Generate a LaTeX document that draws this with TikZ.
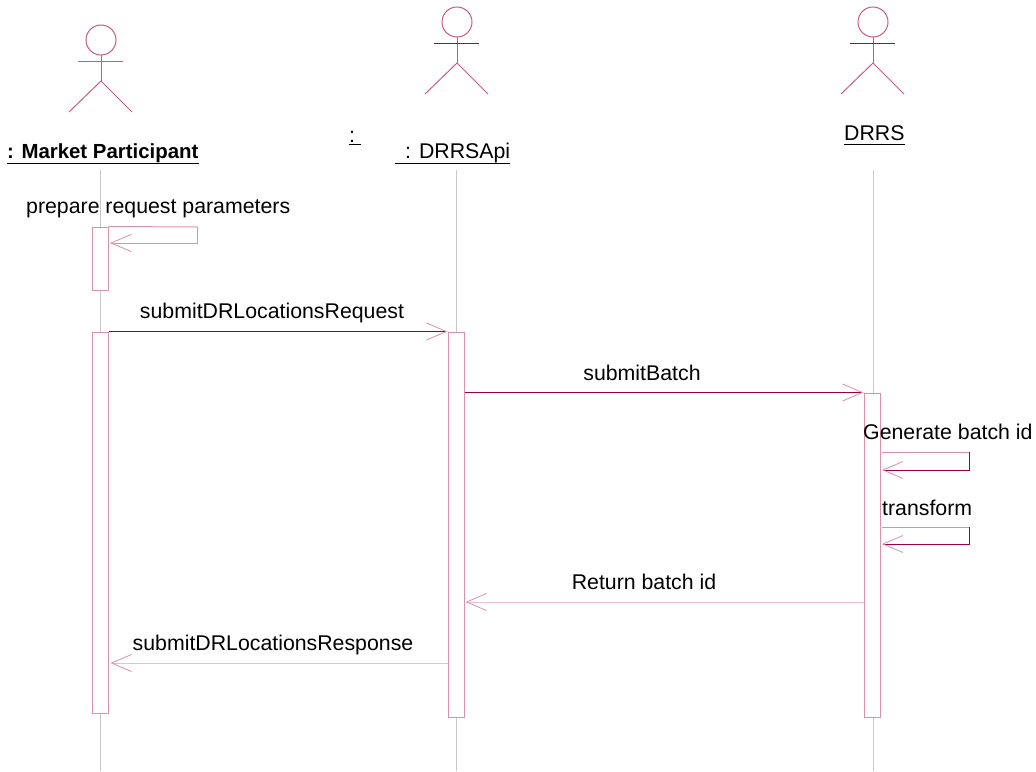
\documentclass[tikz,border=0pt]{standalone}
\usepackage{fontspec}
\setmainfont{Liberation Sans}
\usetikzlibrary{arrows.meta}
\definecolor{crim}{HTML}{A0003A}
\definecolor{darkcrim}{HTML}{7E0A30}
\definecolor{boxpink}{HTML}{D890AC}
\definecolor{lightpink}{HTML}{F0BCD0}
\definecolor{lifegray}{HTML}{C8C8C8}
\definecolor{actorc}{HTML}{C65C86}
\definecolor{armc}{HTML}{9A1048}
\begin{document}
\begin{tikzpicture}[x=1pt,y=-1pt,
  lbl/.style={font=\fontsize{21.3}{25}\selectfont, inner sep=0pt, text=black},
  actbox/.style={draw=boxpink, fill=white, line width=1pt, minimum width=16pt, inner sep=0pt},
  lifeline/.style={draw=lifegray, line width=0.8pt},
  barb/.style={-{Straight Barb[length=20pt,width=17pt,color=boxpink,line width=0.8pt]}},
  msg/.style={draw=crim, line width=1pt, barb},
  ret/.style={draw=lightpink, line width=1pt, barb},
  uline/.style={draw=black, line width=1pt},
  armcolour/.store in=\armcol, armcolour=armc,
  stickman/.pic={
    \draw[actorc, line width=1pt] (0,0) circle[radius=15];
    \draw[actorc, line width=1pt] (0,15) -- (0,41);
    \draw[\armcol, line width=1pt] (-23,21) -- (22,21);
    \draw[actorc, line width=1pt] (-32,72) -- (0,41) -- (31,72);
  }]
\useasboundingbox (0,0) rectangle (1036,771);

% actors
\pic[armcolour=actorc] at (101,40) {stickman};
\pic[armcolour=armc] at (457,22) {stickman};
\pic[armcolour=armc] at (873,22) {stickman};

% actor labels
\node[lbl, font=\bfseries\fontsize{20.4}{25}\selectfont, anchor=base west] (mpL) at (7,158) {: Market Participant};
\draw[uline] ([yshift=-5pt]mpL.base west) -- ([yshift=-5pt]mpL.base east);
\node[lbl, anchor=base west] (colL) at (349,142) {:};
\draw[uline] ([yshift=-2pt]colL.base west) -- ([xshift=6pt,yshift=-2pt]colL.base east);
\node[lbl, anchor=base west] (apiL) at (405,158) {: DRRSApi};
\draw[uline] ([xshift=-10pt,yshift=-5pt]apiL.base west) -- ([yshift=-5pt]apiL.base east);
\node[lbl, anchor=base west] (drrsL) at (844,140) {DRRS};
\draw[uline] ([yshift=-4pt]drrsL.base west) -- ([yshift=-4pt]drrsL.base east);

% lifelines
\coordinate (mpTop) at (100,170);  \coordinate (mpBot) at (100,771);
\coordinate (apiTop) at (456,170); \coordinate (apiBot) at (456,771);
\coordinate (drTop) at (873,170);  \coordinate (drBot) at (873,771);
\draw[lifeline] (mpTop) -- (mpBot);
\draw[lifeline] (apiTop) -- (apiBot);
\draw[lifeline] (drTop) -- (drBot);

% activation boxes
\node[actbox, minimum height=63pt] (mpA) at (100,258.5) {};
\node[actbox, minimum height=381pt] (mpB) at (100,522.5) {};
\node[actbox, minimum height=385pt] (apiB) at (456,524.5) {};
\node[actbox, minimum height=324pt] (drB) at (872,555) {};

% self message: prepare request parameters
\node[lbl, anchor=base west] (prepL) at (26,213) {prepare request parameters};
\coordinate (p1) at (197,227);
\coordinate (p2) at (197,243);
\coordinate (p3) at (110,243);
\draw[boxpink, line width=1pt] (mpA.north east) -- (p1);
\draw[ret, draw=boxpink] (p1) -- (p2) -- (p3);

% submitDRLocationsRequest
\draw[msg, draw=darkcrim] (mpB.north east) -- (apiB.north west);
\node[lbl, anchor=base] (reqL) at (272,318) {submitDRLocationsRequest};

% submitBatch
\draw[msg] (apiB.east |- drB.north) -- (drB.north west);
\node[lbl, anchor=base] (sbL) at (642,380) {submitBatch};

% Generate batch id
\node[lbl, anchor=base west] (genL) at (863,439) {Generate batch id};
\coordinate (g0) at (882,452);
\coordinate (g1) at (969,452);
\coordinate (g2) at (969,470);
\coordinate (g3) at (882,470);
\draw[boxpink, line width=1pt] (g0) -- (g1);
\draw[msg] (g1) -- (g2) -- (g3);

% transform
\node[lbl, anchor=base west] (trL) at (882,515) {transform};
\coordinate (t0) at (882,527);
\coordinate (t1) at (969,527);
\coordinate (t2) at (969,544);
\coordinate (t3) at (882,544);
\draw[boxpink, line width=1pt] (t0) -- (t1);
\draw[msg] (t1) -- (t2) -- (t3);

% Return batch id
\coordinate (r1) at (0,602);
\draw[ret] (drB.west |- r1) -- ([xshift=1pt]apiB.east |- r1);
\node[lbl, anchor=base] (retL) at (644,589) {Return batch id};

% submitDRLocationsResponse
\coordinate (r2) at (0,663);
\draw[ret] (apiB.west |- r2) -- ([xshift=2pt]mpB.east |- r2);
\node[lbl, anchor=base] (respL) at (273,650) {submitDRLocationsResponse};
\end{tikzpicture}
\end{document}
